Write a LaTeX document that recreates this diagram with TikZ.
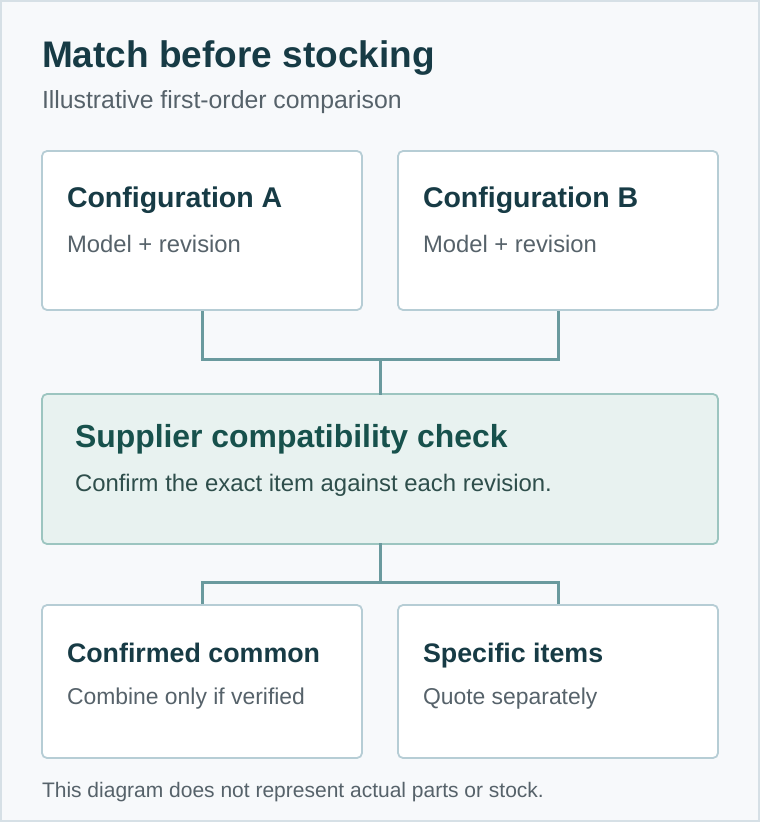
\documentclass[tikz,border=0pt]{standalone}
\usepackage{fontspec}
\setmainfont{Liberation Sans}
\definecolor{bgC}{HTML}{F7F9FB}
\definecolor{frameC}{HTML}{D6E0E6}
\definecolor{titleC}{HTML}{173B45}
\definecolor{subC}{HTML}{56626A}
\definecolor{boxC}{HTML}{B6CDD5}
\definecolor{midFill}{HTML}{E8F2F0}
\definecolor{midBorder}{HTML}{9CC5C0}
\definecolor{midTitle}{HTML}{17514C}
\definecolor{midText}{HTML}{2E4E4B}
\definecolor{connC}{HTML}{6A9A9E}
\tikzset{
  cardbox/.style={draw=boxC, fill=white, line width=1.8pt, rounded corners=5pt, anchor=north west, inner sep=0pt, outer sep=0pt},
  midbox/.style={draw=midBorder, fill=midFill, line width=1.8pt, rounded corners=5pt, anchor=north west, inner sep=0pt, outer sep=0pt},
  txt/.style={anchor=base west, inner sep=0pt, outer sep=0pt},
  conn/.style={draw=connC, line width=3pt},
}
\begin{document}
\begin{tikzpicture}[x=1pt, y=-1pt]
\useasboundingbox (0,0) rectangle (760,822);
\fill[bgC] (0,0) rectangle (760,822);
\draw[frameC, line width=2.4pt] (1.2,1.2) rectangle (758.8,820.8);

\node[txt, text=titleC, font=\fontsize{37}{40}\selectfont\bfseries] (title) at (42,67) {Match before stocking};
\node[txt, text=subC, font=\fontsize{24.8}{28}\selectfont] (subtitle) at (42,108) {Illustrative first-order comparison};

\node[cardbox, minimum width=320pt, minimum height=159pt] (a) at (42,151) {};
\node[cardbox, minimum width=320pt, minimum height=159pt] (b) at (398,151) {};
\node[txt, text=titleC, font=\fontsize{28.5}{32}\selectfont\bfseries] (at) at (67,207) {Configuration A};
\node[txt, text=subC, font=\fontsize{23.8}{27}\selectfont] (as) at (67,252) {Model + revision};
\node[txt, text=titleC, font=\fontsize{28.5}{32}\selectfont\bfseries] (bt) at (423,207) {Configuration B};
\node[txt, text=subC, font=\fontsize{23.8}{27}\selectfont] (bs) at (423,252) {Model + revision};

\node[midbox, minimum width=676pt, minimum height=150pt] (mid) at (42,394) {};
\node[txt, text=midTitle, font=\fontsize{31.9}{35}\selectfont\bfseries] (mt) at (75,447) {Supplier compatibility check};
\node[txt, text=midText, font=\fontsize{23.9}{27}\selectfont] (ms) at (75,491) {Confirm the exact item against each revision.};

\node[cardbox, minimum width=320pt, minimum height=153pt] (c) at (42,605) {};
\node[cardbox, minimum width=320pt, minimum height=153pt] (d) at (398,605) {};
\node[txt, text=titleC, font=\fontsize{26.8}{30}\selectfont\bfseries] (ct) at (67,662) {Confirmed common};
\node[txt, text=subC, font=\fontsize{22.9}{26}\selectfont] (cs) at (67,704) {Combine only if verified};
\node[txt, text=titleC, font=\fontsize{26.8}{30}\selectfont\bfseries] (dt) at (423,662) {Specific items};
\node[txt, text=subC, font=\fontsize{22.9}{26}\selectfont] (ds) at (423,704) {Quote separately};

\node[txt, text=subC, font=\fontsize{21}{24}\selectfont] (foot) at (42,797) {This diagram does not represent actual parts or stock.};

\coordinate (j) at (380,359.5);
\coordinate (k) at (380,582);
\draw[conn] ([yshift=-1pt]a.south) |- (j) -| ([yshift=-1pt]b.south);
\draw[conn] (j) -- ([yshift=-1pt]mid.north);
\draw[conn] ([yshift=1pt]mid.south) -- (k);
\draw[conn] ([yshift=1pt]c.north) |- (k) -| ([yshift=1pt]d.north);
\end{tikzpicture}
\end{document}
